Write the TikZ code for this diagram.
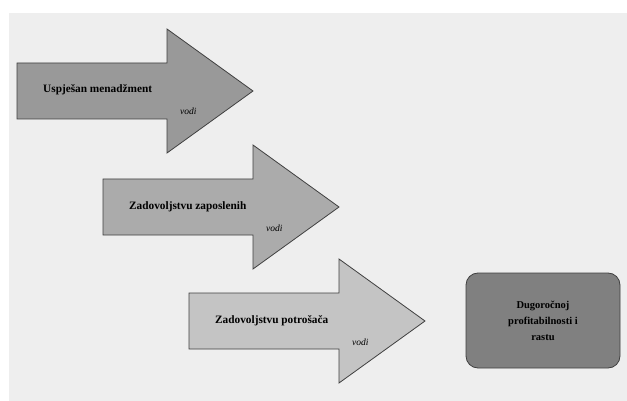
\documentclass[tikz,border=0pt]{standalone}
\usepackage{fontspec}
\setmainfont{Liberation Serif}
\usepackage{tikz}
\usetikzlibrary{positioning}
\definecolor{bggray}{HTML}{EEEEEE}
\definecolor{arrowA}{HTML}{999999}
\definecolor{arrowB}{HTML}{ABABAB}
\definecolor{arrowC}{HTML}{C4C4C4}
\definecolor{boxgray}{HTML}{808080}
\definecolor{edgegray}{HTML}{404040}

\begin{document}
\begin{tikzpicture}[x=1pt,y=-1pt,
    bigarrow/.style={draw=edgegray, line width=0.8pt, line join=miter},
    arrowtext/.style={font=\bfseries\fontsize{11.3}{13}\selectfont, anchor=base west, inner sep=0pt},
    leads/.style={font=\itshape\fontsize{9.5}{11}\selectfont, anchor=base west, inner sep=0pt},
    goalbox/.style={draw=edgegray, fill=boxgray, line width=0.8pt, rounded corners=12pt,
        minimum width=154pt, minimum height=95pt, align=center,
        font=\bfseries\fontsize{10.5}{16}\selectfont}]
    \useasboundingbox (0,0) rectangle (627,401);
    %Background
    \fill[bggray] (9,13) rectangle (627,401);
    %Arrows
    \foreach \dx/\dy/\fillc/\txt/\n in {0/0/arrowA/{Uspješan menadžment}/1,
        86/116/arrowB/{Zadovoljstvu zaposlenih}/2,
        172/230/arrowC/{Zadovoljstvu potrošača}/3}{
        \begin{scope}[shift={(17+\dx,63+\dy)}]
            \draw[bigarrow, fill=\fillc] (0,0) -- (150,0) -- (150,-34) -- (236,28)
                -- (150,90) -- (150,56) -- (0,56) -- cycle;
            \node[arrowtext] (step\n) at (26,30) {\txt};
            \node[leads] (vodi\n) at (163,52) {vodi};
        \end{scope}
    }
    %Goal
    \node[goalbox] (goal) at (543,320.5) {Dugoročnoj\\profitabilnosti i\\rastu};
\end{tikzpicture}
\end{document}
